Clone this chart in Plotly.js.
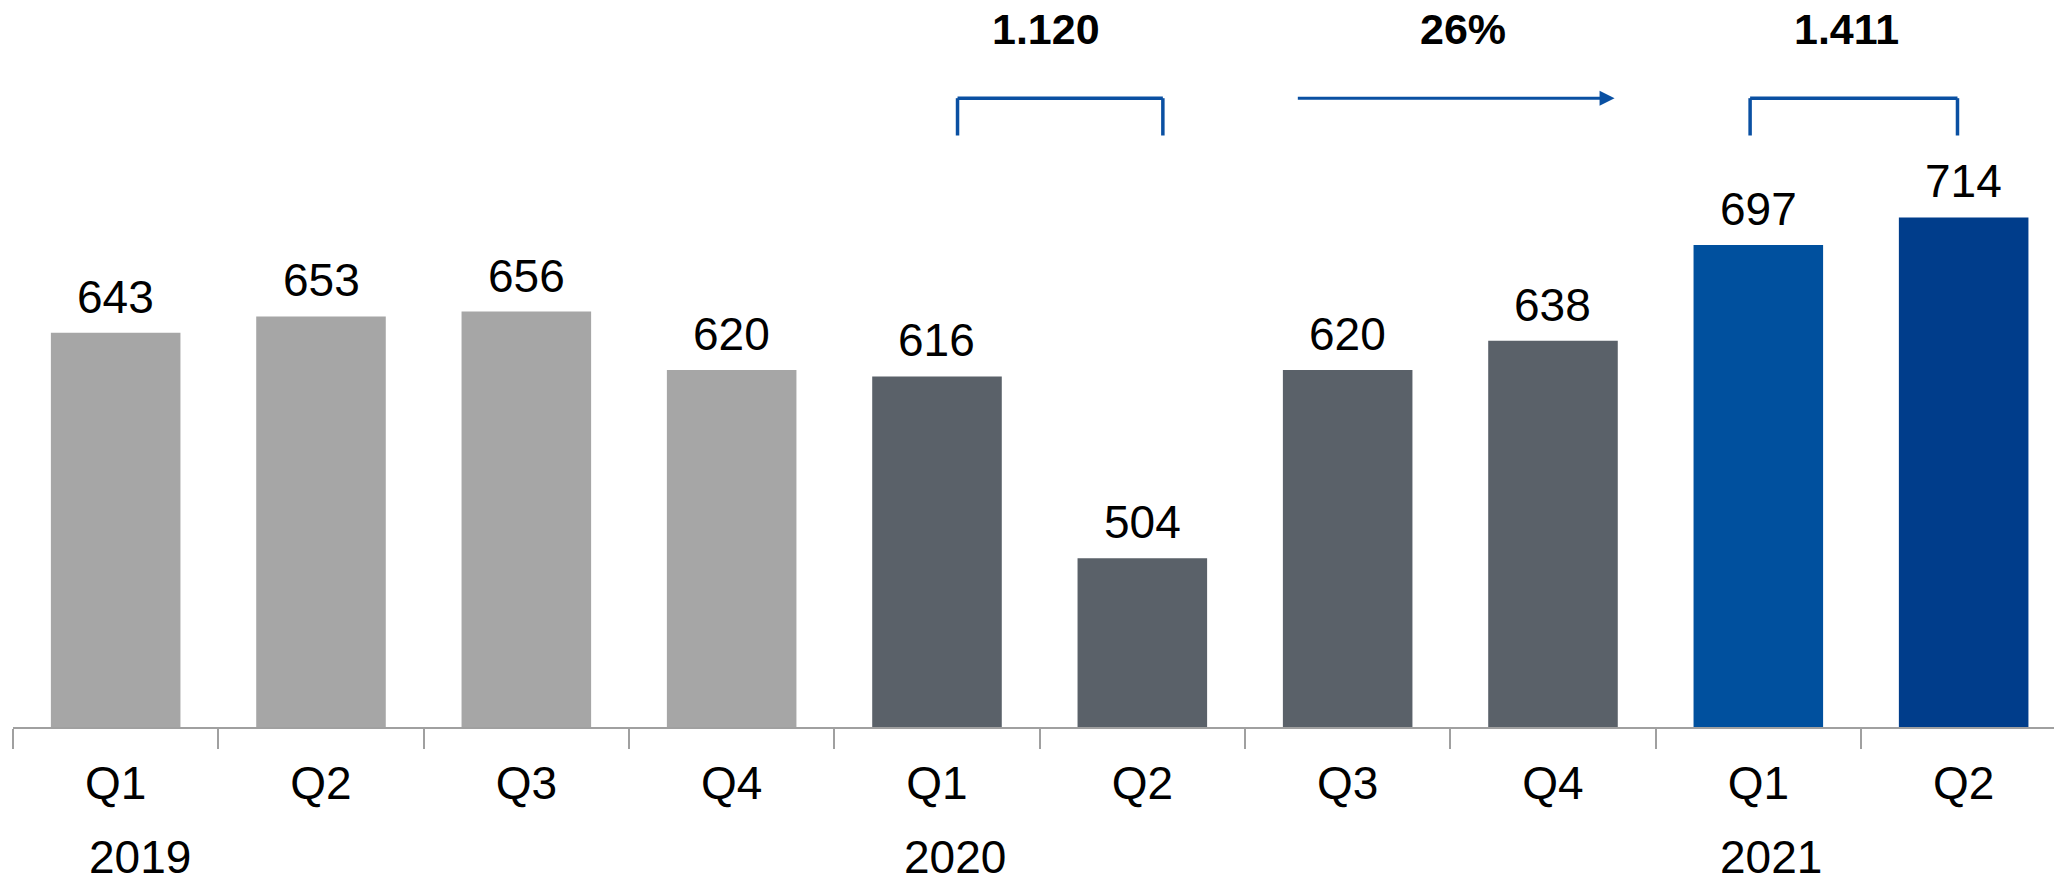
<!DOCTYPE html>
<html>
<head>
<meta charset="utf-8">
<script src="https://cdn.plot.ly/plotly-3.0.1.min.js"></script>
<style>
  html, body { margin: 0; padding: 0; background: #fff; }
  #chart { width: 2054px; height: 882px; }
</style>
</head>
<body>
<div id="chart"></div>
<script>
// ---- data ----
const categories = ["Q1 2019", "Q2 2019", "Q3 2019", "Q4 2019", "Q1 2020", "Q2 2020", "Q3 2020", "Q4 2020", "Q1 2021", "Q2 2021"];
const quarterLabels = ["Q1", "Q2", "Q3", "Q4", "Q1", "Q2", "Q3", "Q4", "Q1", "Q2"];
const values = [643, 653, 656, 620, 616, 504, 620, 638, 697, 714];
const yearLabels = ["2019", "2020", "2021"];
const totalLabels = ["1.120", "1.411"];
const growthLabel = "26%";

// ---- styles ----
const barColors = ["#A6A6A6", "#A6A6A6", "#A6A6A6", "#A6A6A6",
                   "#5A6169", "#5A6169", "#5A6169", "#5A6169",
                   "#00509E", "#003D8B"];
const accent = "#0A50A2";
const FONT = "Liberation Sans, Arial, sans-serif";

const trace = {
  type: "bar",
  x: categories,
  y: values,
  marker: { color: barColors, line: { width: 0 } },
  hoverinfo: "x+y"
};

const annotations = [];
// value labels
categories.forEach((c, i) => {
  annotations.push({
    x: c, y: values[i], xref: "x", yref: "y",
    text: String(values[i]), showarrow: false,
    yanchor: "bottom", yshift: 8,
    font: { family: FONT, size: 46, color: "#000" }
  });
});
// year labels
const yearX = [0.12, 4.09, 8.06];
yearLabels.forEach((t, i) => {
  annotations.push({
    x: yearX[i], y: -0.179, xref: "x", yref: "paper",
    text: t, showarrow: false, yanchor: "middle",
    font: { family: FONT, size: 46, color: "#000" }
  });
});
// bold top labels
const topY = 0.96;
const boldFont = { family: FONT, size: 43, color: "#000" };
annotations.push({ x: 4.53, y: topY, xref: "x", yref: "paper", text: "<b>" + totalLabels[0] + "</b>",
  showarrow: false, yanchor: "middle", font: boldFont });
annotations.push({ x: 6.56, y: topY, xref: "x", yref: "paper", text: "<b>" + growthLabel + "</b>",
  showarrow: false, yanchor: "middle", font: boldFont });
annotations.push({ x: 8.43, y: topY, xref: "x", yref: "paper", text: "<b>" + totalLabels[1] + "</b>",
  showarrow: false, yanchor: "middle", font: boldFont });
// growth arrow
annotations.push({
  x: 7.3, y: 787.5, xref: "x", yref: "y",
  ax: 5.75, ay: 787.5, axref: "x", ayref: "y",
  text: "", showarrow: true, arrowhead: 2, arrowsize: 1, arrowwidth: 3,
  arrowcolor: accent
});

// brackets
const bTop = 787.5, bBot = 764.5;
function bracket(x0, x1) {
  const ln = { color: accent, width: 3.5 };
  return [
    { type: "line", xref: "x", yref: "y", x0: x0, x1: x0, y0: bBot, y1: bTop, line: ln },
    { type: "line", xref: "x", yref: "y", x0: x0, x1: x1, y0: bTop, y1: bTop, line: ln },
    { type: "line", xref: "x", yref: "y", x0: x1, x1: x1, y0: bBot, y1: bTop, line: ln }
  ];
}
const shapes = [].concat(bracket(4.1, 5.1), bracket(7.96, 8.97));

const layout = {
  width: 2054, height: 882,
  margin: { l: 13, r: 0, t: 0, b: 155, pad: 0 },
  paper_bgcolor: "#fff", plot_bgcolor: "#fff",
  showlegend: false,
  bargap: 0.369,
  xaxis: {
    type: "category",
    range: [-0.5, 9.44],
    tickvals: categories, ticktext: quarterLabels,
    tickson: "boundaries",
    ticks: "outside", ticklen: 20, tickwidth: 2, tickcolor: "#A0A0A0",
    showline: true, linecolor: "#A0A0A0", linewidth: 2,
    showgrid: false, zeroline: false,
    ticklabelstandoff: 15,
    tickfont: { family: FONT, size: 46, color: "#000" }
  },
  yaxis: {
    range: [400, 848],
    visible: false, showgrid: false, zeroline: false
  },
  annotations: annotations,
  shapes: shapes
};

Plotly.newPlot("chart", [trace], layout, { displayModeBar: false, staticPlot: true });
</script>
</body>
</html>
